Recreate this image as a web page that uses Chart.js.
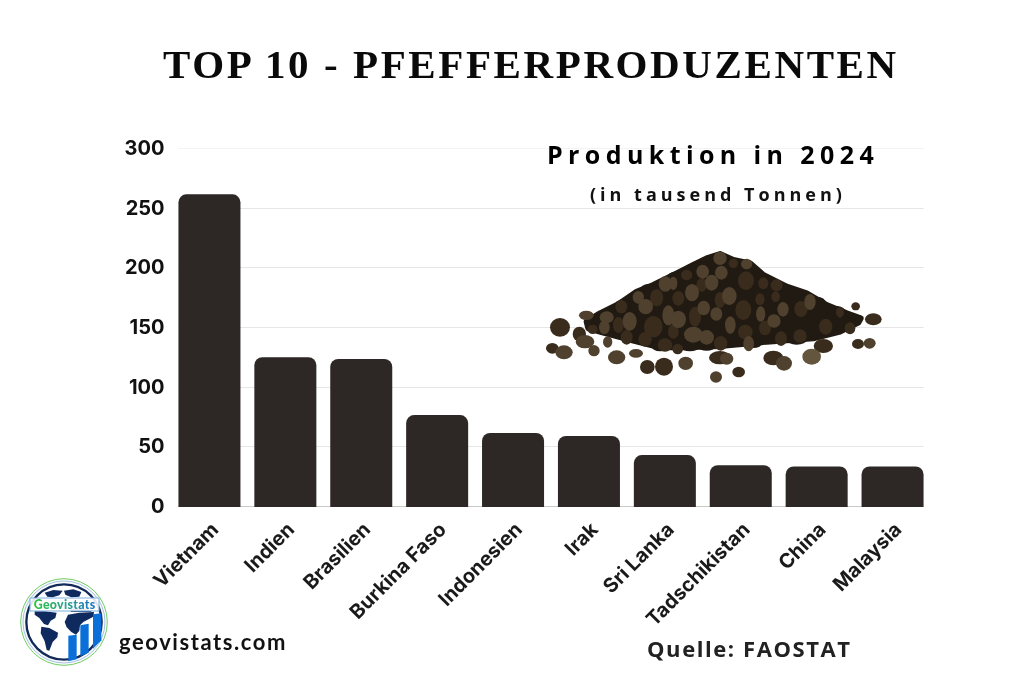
<!DOCTYPE html>
<html><head><meta charset="utf-8">
<style>
html,body{margin:0;padding:0;background:#fff;width:1024px;height:683px;overflow:hidden}
#wrap{position:relative;width:1024px;height:683px}
canvas{position:absolute;left:0;top:0}
.t{position:absolute;white-space:nowrap;color:#000;line-height:1}
#title{left:163px;top:40px;font:700 41px "Liberation Serif",serif;letter-spacing:2.6px;color:#0a0a0a}
#sub1{left:547px;top:137px;font:700 25px "Open Sans",sans-serif;letter-spacing:5.4px}
#sub2{left:590px;top:182px;font:700 18px "Open Sans",sans-serif;letter-spacing:4px;color:#111}
#site{left:119px;top:628px;font:700 22px "Lato",sans-serif;letter-spacing:1.57px;color:#111}
#src{left:647px;top:633px;font:700 22px "Open Sans",sans-serif;letter-spacing:1.58px;color:#222}
svg{position:absolute;left:0;top:0}
</style></head><body><div id="wrap">
<canvas id="c" width="1024" height="683"></canvas>
<div class="t" id="title">TOP 10 - PFEFFERPRODUZENTEN</div>
<div class="t" id="sub1">Produktion in 2024</div>
<div class="t" id="sub2">(in tausend Tonnen)</div>
<div class="t" id="site">geovistats.com</div>
<div class="t" id="src">Quelle: FAOSTAT</div>
<svg width="1024" height="683" id="art">
<defs><linearGradient id="lg" x1="0" x2="1" y1="0" y2="0"><stop offset="0" stop-color="#2fc43c"/><stop offset=".5" stop-color="#2aa58a"/><stop offset="1" stop-color="#1f72c8"/></linearGradient></defs>
<g transform="translate(520 130) scale(.33333)" id="pile">
<polygon fill="#211a12" stroke="#211a12" stroke-width="18" stroke-linejoin="round" points="200,575 240,550 300,520 350,485 400,465 470,430 520,405 560,385 600,372 640,390 690,400 730,435 800,470 860,490 920,525 980,550 1022,565 1015,578 960,605 880,625 740,635 600,648 500,652 420,652 340,632 250,608 205,595"/>
<g fill="#211a12">
<ellipse cx="560" cy="398" rx="24" ry="18"/><ellipse cx="520" cy="418" rx="24" ry="18"/><ellipse cx="465" cy="445" rx="24" ry="20"/><ellipse cx="385" cy="482" rx="26" ry="20"/><ellipse cx="310" cy="528" rx="26" ry="20"/><ellipse cx="790" cy="478" rx="24" ry="16"/><ellipse cx="890" cy="520" rx="28" ry="20"/><ellipse cx="950" cy="548" rx="28" ry="20"/>
<ellipse cx="420" cy="648" rx="26" ry="16"/><ellipse cx="510" cy="650" rx="28" ry="14"/><ellipse cx="560" cy="650" rx="26" ry="12"/><ellipse cx="700" cy="640" rx="26" ry="14"/><ellipse cx="830" cy="630" rx="30" ry="14"/>
</g>
<g fill="#3a2c1c">
<ellipse cx="120" cy="592" rx="30" ry="28"/><ellipse cx="178" cy="612" rx="20" ry="22"/><ellipse cx="97" cy="655" rx="19" ry="16"/><ellipse cx="382" cy="711" rx="22" ry="21"/><ellipse cx="432" cy="710" rx="27" ry="27"/><ellipse cx="656" cy="726" rx="19" ry="16"/><ellipse cx="600" cy="683" rx="33" ry="20"/><ellipse cx="760" cy="684" rx="30" ry="22"/><ellipse cx="910" cy="648" rx="29" ry="21"/><ellipse cx="1014" cy="642" rx="18" ry="15"/><ellipse cx="1060" cy="568" rx="25" ry="18"/><ellipse cx="1007" cy="529" rx="13" ry="12"/>
<ellipse cx="304" cy="530" rx="18" ry="20"/><ellipse cx="410" cy="503" rx="20" ry="26"/><ellipse cx="475" cy="505" rx="18" ry="22"/><ellipse cx="500" cy="435" rx="17" ry="16"/><ellipse cx="678" cy="452" rx="24" ry="28"/><ellipse cx="730" cy="460" rx="15" ry="18"/><ellipse cx="770" cy="466" rx="18" ry="18"/><ellipse cx="720" cy="508" rx="14" ry="18"/><ellipse cx="670" cy="540" rx="24" ry="30"/><ellipse cx="600" cy="510" rx="16" ry="24"/><ellipse cx="525" cy="560" rx="18" ry="30"/><ellipse cx="400" cy="590" rx="28" ry="32"/><ellipse cx="320" cy="622" rx="18" ry="22"/><ellipse cx="375" cy="628" rx="20" ry="22"/><ellipse cx="460" cy="605" rx="16" ry="22"/><ellipse cx="435" cy="645" rx="22" ry="20"/><ellipse cx="473" cy="657" rx="16" ry="16"/><ellipse cx="602" cy="640" rx="20" ry="22"/><ellipse cx="676" cy="606" rx="22" ry="22"/><ellipse cx="735" cy="594" rx="18" ry="22"/><ellipse cx="783" cy="626" rx="18" ry="22"/><ellipse cx="840" cy="618" rx="20" ry="20"/><ellipse cx="917" cy="590" rx="20" ry="24"/><ellipse cx="990" cy="595" rx="16" ry="18"/><ellipse cx="843" cy="537" rx="20" ry="24"/><ellipse cx="767" cy="500" rx="13" ry="16"/><ellipse cx="960" cy="547" rx="12" ry="16"/><ellipse cx="218" cy="598" rx="15" ry="14"/><ellipse cx="295" cy="585" rx="16" ry="24"/><ellipse cx="640" cy="400" rx="14" ry="14"/><ellipse cx="545" cy="465" rx="16" ry="20"/>
</g>
<g fill="#4f412e">
<ellipse cx="600" cy="385" rx="20" ry="20"/><ellipse cx="680" cy="402" rx="17" ry="16"/><ellipse cx="548" cy="425" rx="19" ry="21"/><ellipse cx="604" cy="428" rx="19" ry="21"/><ellipse cx="575" cy="458" rx="20" ry="24"/><ellipse cx="436" cy="462" rx="20" ry="23"/><ellipse cx="460" cy="460" rx="12" ry="20"/><ellipse cx="516" cy="488" rx="21" ry="26"/><ellipse cx="628" cy="498" rx="22" ry="27"/><ellipse cx="355" cy="502" rx="17" ry="19"/><ellipse cx="377" cy="530" rx="22" ry="23"/><ellipse cx="551" cy="534" rx="19" ry="22"/><ellipse cx="589" cy="552" rx="18" ry="20"/><ellipse cx="445" cy="556" rx="18" ry="30"/><ellipse cx="475" cy="568" rx="23" ry="26"/><ellipse cx="329" cy="574" rx="21" ry="28"/><ellipse cx="260" cy="562" rx="21" ry="18"/><ellipse cx="253" cy="592" rx="16" ry="21"/><ellipse cx="199" cy="556" rx="22" ry="14"/><ellipse cx="631" cy="585" rx="16" ry="26"/><ellipse cx="722" cy="552" rx="14" ry="23"/><ellipse cx="762" cy="573" rx="20" ry="20"/><ellipse cx="789" cy="538" rx="17" ry="22"/><ellipse cx="870" cy="516" rx="17" ry="24"/><ellipse cx="520" cy="614" rx="28" ry="24"/><ellipse cx="560" cy="622" rx="22" ry="22"/><ellipse cx="686" cy="641" rx="16" ry="23"/><ellipse cx="195" cy="635" rx="28" ry="20"/><ellipse cx="222" cy="662" rx="17" ry="17"/><ellipse cx="263" cy="636" rx="14" ry="17"/><ellipse cx="132" cy="667" rx="26" ry="21"/><ellipse cx="348" cy="670" rx="21" ry="13"/><ellipse cx="290" cy="682" rx="26" ry="21"/><ellipse cx="497" cy="700" rx="22" ry="20"/><ellipse cx="620" cy="686" rx="20" ry="18"/><ellipse cx="792" cy="700" rx="24" ry="22"/><ellipse cx="588" cy="741" rx="18" ry="17"/><ellipse cx="1049" cy="640" rx="18" ry="16"/>
</g>
<ellipse cx="875" cy="680" rx="28" ry="24" fill="#64553f"/>
</g>
<g id="logo" transform="translate(14 572) scale(.33333)">
<circle cx="150" cy="150" r="130" fill="#f8fafc" stroke="#6fcf5f" stroke-width="3"/>
<circle cx="150" cy="150" r="123" fill="none" stroke="#a9c2e4" stroke-width="3"/>
<circle cx="150" cy="150" r="113" fill="#fff" stroke="#12295a" stroke-width="7"/>
<g fill="#0f2a5e">
<path d="M92 62l26-8 28 2 -10 14 -20 6 -16 -2z"/>
<path d="M150 56l28-4 24 8 -6 14 -24 2 -18-8z"/>
<path d="M62 118l30 0 36 4 -4 16 -14 8 -8 14 -12 -4 -14-18 -14-10z"/>
<path d="M82 164l24 4 26 14 -2 14 -14 14 -10 26 -8-2 -6-26 -12-24z"/>
<path d="M152 150l10-22 34-6 44-2 -2 14 -30 16 -10 10 -2 16 -10 12 -14-8 -14-14z"/>
<path d="M170 112l40 0 26 2 -6 6 -60 0z"/>
</g>
<rect x="48" y="78" width="207" height="39" fill="#fff" fill-opacity=".88" stroke="#7fb0df" stroke-width="3"/>
<text x="152" y="112" text-anchor="middle" font-family="Lato,sans-serif" font-weight="900" font-size="37" fill="url(#lg)" letter-spacing="1">Geovistats</text>
<polygon points="163,191 188,188 188,262 163,268" fill="#0a6fd8"/>
<polygon points="199,160 224,155 224,242 199,252" fill="#0a6fd8"/>
<polygon points="237,127 262,124 262,205 237,230" fill="#0a6fd8"/>
</g>
</svg>
</div>
<script src="https://cdn.jsdelivr.net/npm/chart.js@4"></script>
<script>
const categories = ["Vietnam","Indien","Brasilien","Burkina Faso","Indonesien","Irak","Sri Lanka","Tadschikistan","China","Malaysia"];
const production = [262,125.5,124,77,62,59.5,43.5,35,34,34];
const yTicks = [0,50,100,150,200,250,300];

const gridPlugin = {
  id:'insetGrid',
  beforeDatasetsDraw(chart){
    const y = chart.scales.y, bars = chart.getDatasetMeta(0).data, c = chart.ctx;
    const half = bars[0].width/2, x0 = bars[0].x-half, x1 = bars[bars.length-1].x+half;
    c.save();
    yTicks.forEach(v=>{
      const p = Math.round(y.getPixelForValue(v))-.5;
      c.strokeStyle = v===0 ? '#c9c9c9' : (v===300 ? '#f3f3f3' : '#e6e6e6');
      c.lineWidth = 1;
      c.beginPath(); c.moveTo(x0,p); c.lineTo(x1,p); c.stroke();
    });
    c.restore();
  }
};

new Chart(document.getElementById('c'),{
  type:'bar',
  data:{labels:categories,datasets:[{data:production,backgroundColor:'#2d2726',
    categoryPercentage:1,barPercentage:0.817,
    borderRadius:{topLeft:8,topRight:8,bottomLeft:0,bottomRight:0},borderSkipped:false}]},
  plugins:[gridPlugin],
  options:{
    responsive:false,animation:false,
    layout:{padding:{left:0,right:93.5,top:149,bottom:0}},
    plugins:{legend:{display:false},title:{display:false},tooltip:{enabled:false}},
    scales:{
      x:{
        afterFit(s){s.height=176;},
        grid:{display:false,drawTicks:false},border:{display:false},
        ticks:{color:'#1a1a1a',font:{family:'Inter',size:20,weight:'bold'},minRotation:45,maxRotation:45,padding:11,labelOffset:6,autoSkip:false}
      },
      y:{
        min:0,max:300,
        afterFit(s){s.width=171.5;},
        afterBuildTicks(s){s.ticks=yTicks.map(v=>({value:v}));},
        grid:{display:false,drawTicks:false},border:{display:false},
        ticks:{color:'#111',font:{family:'Inter',size:20,weight:'bold'},padding:7}
      }
    }
  }
});
</script>
</body></html>
